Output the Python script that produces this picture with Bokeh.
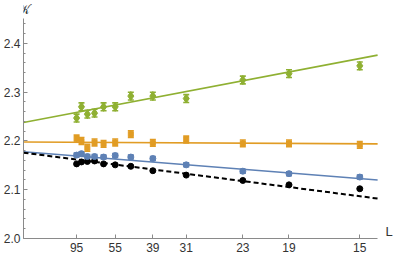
from bokeh.plotting import figure
from bokeh.models import (ColumnDataSource, Whisker, TeeHead, FixedTicker,
                          CustomJSTickFormatter, PrintfTickFormatter, Label, Range1d)
from bokeh.embed import file_html
from bokeh.resources import INLINE

# ---- data ----
L = [95, 87, 79, 71, 63, 55, 47, 39, 31, 23, 19, 15]
K_green = [2.247, 2.270, 2.255, 2.257, 2.270, 2.270, 2.292, 2.292, 2.287, 2.325, 2.338, 2.354]
K_orange = [2.205, 2.200, 2.186, 2.197, 2.194, 2.197, 2.214, 2.196, 2.203, 2.195, 2.195, 2.192]
K_blue = [2.171, 2.174, 2.168, 2.168, 2.167, 2.170, 2.167, 2.164, 2.151, 2.138, 2.133, 2.126]
K_black = [2.153, 2.157, 2.158, 2.159, 2.153, 2.151, 2.148, 2.139, 2.130, 2.119, 2.110, 2.102]
err_green = 0.008
err_orange = 0.007
err_blue = 0.004

# fits: (intercept at 1/L = 0, slope in 1/L)
fit_green = (2.238, 1.966)
fit_orange = (2.198, -0.057)
fit_blue = (2.178, -0.826)
fit_black = (2.176, -1.34)

tick_L = [95, 55, 39, 31, 23, 19, 15]
y_ticks = [2.0, 2.1, 2.2, 2.3, 2.4]
y_minor = [round(2.0 + 0.02 * i, 2) for i in range(23)]

X_MAX = 0.0702          # end of the drawn x axis (1/L)
X_END = 0.07335         # plotting area continues a little further (room for the "L" label)
Y_MIN, Y_MAX = 2.0, 2.452
Y_END = 2.488           # room above the y axis for its label

BLUE = "#5E81B5"
ORANGE = "#E19C24"
GREEN = "#8FB032"
FONT = "Liberation Sans"

x = [1.0 / l for l in L]

p = figure(width=393, height=257, x_range=Range1d(0, X_END), y_range=Range1d(Y_MIN, Y_END),
           output_backend="svg", toolbar_location=None,
           min_border_left=0, min_border_right=0, min_border_top=0, min_border_bottom=19)
p.grid.visible = False
p.outline_line_color = None
p.background_fill_color = "white"

# axes
for ax in (p.xaxis[0], p.yaxis[0]):
    ax.axis_line_color = "#8a8a8a"
    ax.major_tick_line_color = "#8a8a8a"
    ax.minor_tick_line_color = "#8a8a8a"
    ax.major_tick_in = 4
    ax.major_tick_out = 0
    ax.major_label_text_font = FONT
    ax.major_label_text_font_size = "12px"
    ax.major_label_text_color = "#333333"

p.xaxis.bounds = (0, X_MAX)
p.xaxis.ticker = FixedTicker(ticks=[1.0 / l for l in tick_L])
p.xaxis.formatter = CustomJSTickFormatter(code="return Math.round(1/tick).toString();")
p.xaxis.major_label_standoff = 4
p.xaxis.minor_tick_line_color = None

p.yaxis.bounds = (Y_MIN, Y_MAX)
p.yaxis.ticker = FixedTicker(ticks=y_ticks, minor_ticks=y_minor)
p.yaxis.formatter = PrintfTickFormatter(format="%.1f")
p.yaxis.minor_tick_in = 2
p.yaxis.minor_tick_out = 0
p.yaxis.major_label_standoff = 3

# fit lines
def fit_line(fit, color, dash="solid", width=1.6):
    a, b = fit
    xs = [0.0, X_MAX]
    p.line(xs, [a + b * v for v in xs], line_color=color, line_width=width, line_dash=dash)

fit_line(fit_orange, ORANGE)
fit_line(fit_green, GREEN)
fit_line(fit_blue, BLUE)
fit_line(fit_black, "black", dash="5 3", width=2)

# error bars + markers
def series(vals, err, color, marker, size):
    src = ColumnDataSource(dict(x=x, y=vals,
                                lo=[v - err for v in vals] if err else vals,
                                hi=[v + err for v in vals] if err else vals))
    if err:
        w = Whisker(source=src, base="x", lower="lo", upper="hi", dimension="height",
                    line_color=color, line_width=1.6,
                    lower_head=TeeHead(size=6, line_color=color, line_width=1.6),
                    upper_head=TeeHead(size=6, line_color=color, line_width=1.6))
        p.add_layout(w)
    p.scatter("x", "y", source=src, marker=marker, size=size,
              fill_color=color, line_color=color)

series(K_black, 0, "black", "circle", 6)
series(K_blue, err_blue, BLUE, "circle", 6)
series(K_orange, err_orange, ORANGE, "square", 5)
series(K_green, err_green, GREEN, "diamond", 9)

# axis labels at the axis ends (Mathematica style)
p.add_layout(Label(x=X_MAX, y=Y_MIN, x_offset=8, y_offset=0, text="L",
                   text_baseline="bottom", text_align="left", text_font=FONT,
                   text_font_size="13px", text_color="#333333"))
p.add_layout(Label(x=0, y=Y_MAX, y_offset=1, text="\U0001D4A6",
                   text_baseline="bottom", text_align="center",
                   text_font="DejaVu Serif", text_font_size="13px", text_color="#333333"))

open("out.html", "w").write(file_html(p, INLINE))
